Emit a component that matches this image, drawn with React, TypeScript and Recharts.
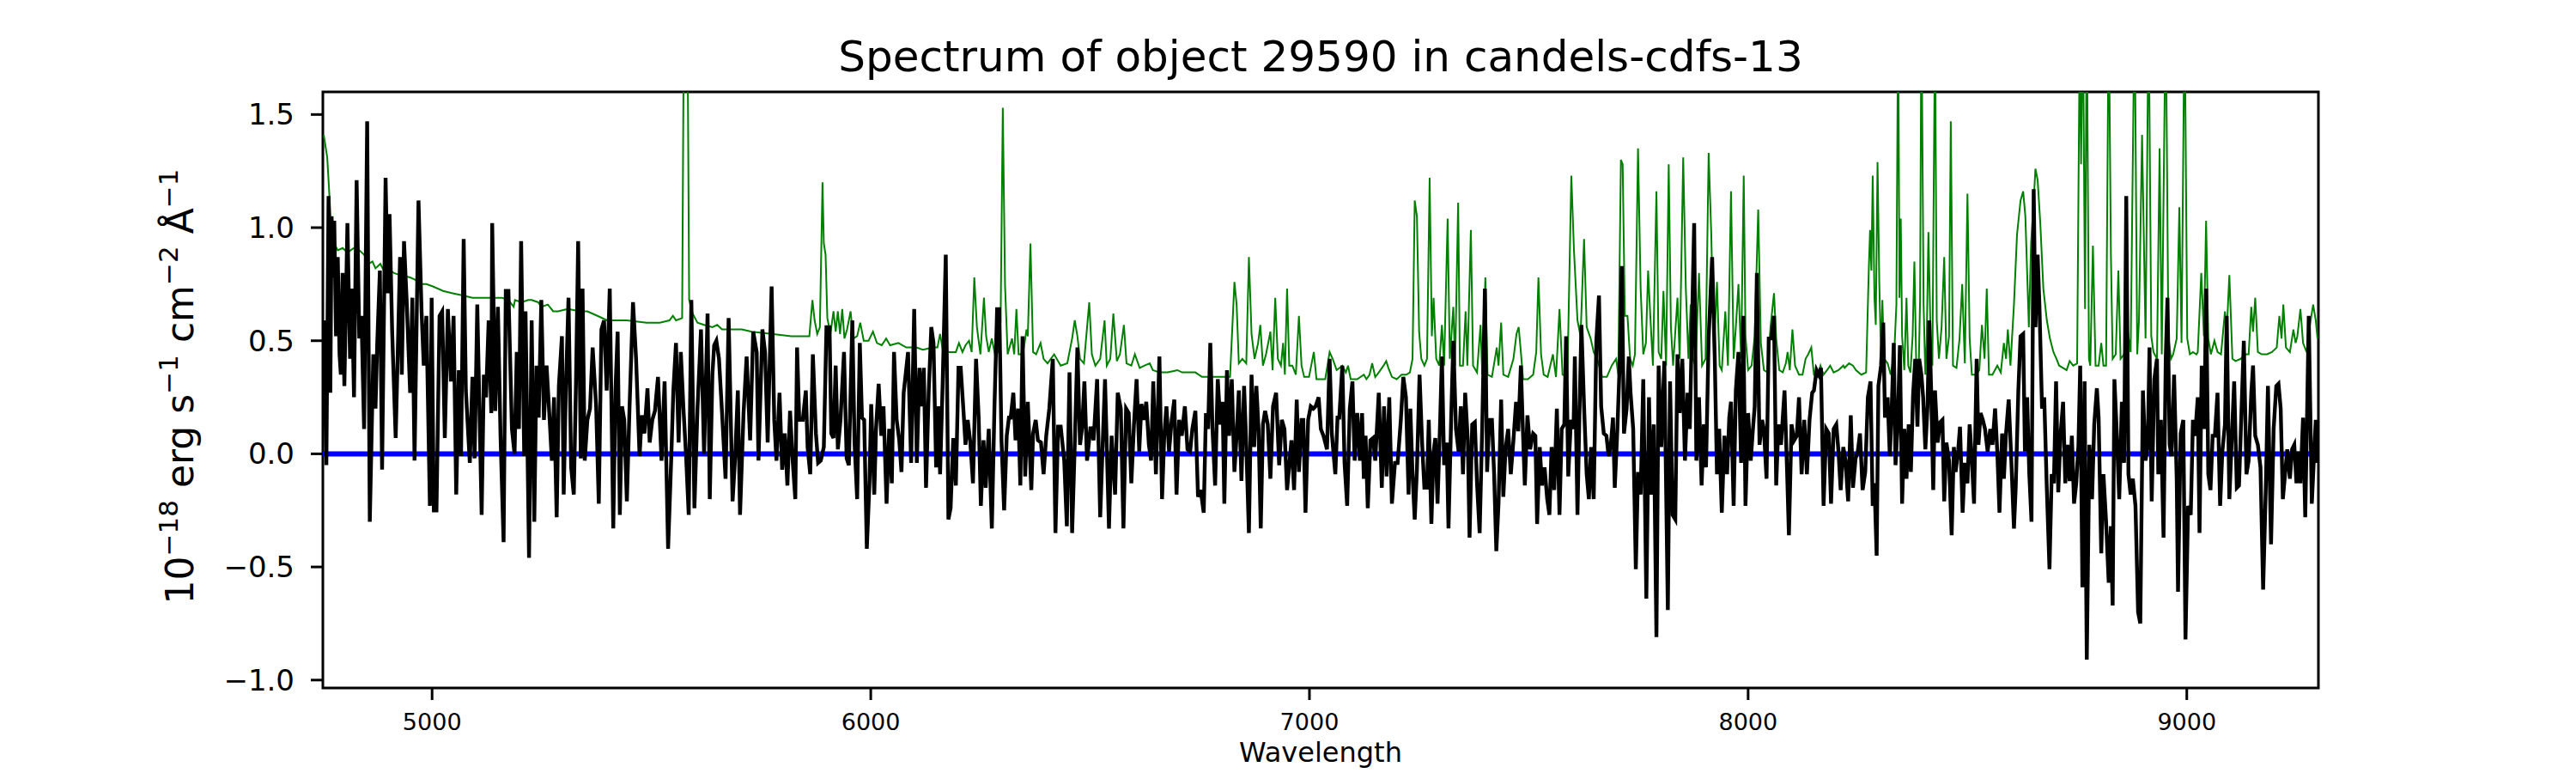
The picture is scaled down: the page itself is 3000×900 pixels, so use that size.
import React from "react";
import { LineChart, Line, XAxis, YAxis, ReferenceArea } from "recharts";

const chartTitle = "Spectrum of object 29590 in candels-cdfs-13";
const xAxisTitle = "Wavelength";
const xTicks = [5000, 6000, 7000, 8000, 9000];
const yTicks = [-1.0, -0.5, 0.0, 0.5, 1.0, 1.5];
const xDomain: [number, number] = [4751, 9300];
const yDomain: [number, number] = [-1.035, 1.6];

// zero level drawn across the full wavelength range
const zeroLevel: [number, number][] = [[4751, 0], [9300, 0]];

// model / sky spectrum (green), [wavelength, flux]
const skyBlue: [number, number][] = [
    [4753, 1.41], [4761, 1.31], [4766, 1.14], [4771, 0.97], [4777, 0.93], [4785, 0.90], [4796, 0.91], [4807, 0.89],
    [4822, 0.91], [4834, 0.90], [4845, 0.88], [4856, 0.84], [4864, 0.85], [4871, 0.82], [4882, 0.84], [4890, 0.81],
    [4901, 0.82], [4912, 0.80], [4927, 0.79], [4950, 0.78], [4961, 0.77], [4972, 0.75], [4987, 0.75], [5002, 0.74],
    [5025, 0.72], [5047, 0.71], [5070, 0.70], [5092, 0.69], [5115, 0.69], [5137, 0.69], [5159, 0.69], [5174, 0.68],
    [5186, 0.65], [5189, 0.68], [5204, 0.67], [5219, 0.68], [5227, 0.68], [5242, 0.67], [5249, 0.65], [5264, 0.66],
    [5276, 0.63], [5287, 0.63], [5309, 0.64], [5339, 0.63], [5354, 0.63], [5377, 0.61], [5399, 0.59], [5444, 0.59],
    [5489, 0.58], [5519, 0.58], [5541, 0.59], [5549, 0.61], [5556, 0.59], [5570, 0.60], [5575, 2.3], [5578, 1.8],
    [5581, 2.3], [5586, 0.68], [5594, 0.62], [5605, 0.58], [5620, 0.57], [5639, 0.56], [5650, 0.57], [5661, 0.55],
    [5706, 0.55], [5729, 0.54], [5774, 0.53], [5819, 0.52], [5860, 0.52], [5867, 0.68], [5872, 0.59], [5878, 0.53],
    [5884, 0.56], [5890, 1.20], [5893, 0.93], [5897, 0.88], [5901, 0.60], [5908, 0.53],
];

const skyGreen: [number, number][] = [
    [5915, 0.63], [5920, 0.54], [5925, 0.63], [5930, 0.53], [5935, 0.64], [5940, 0.51], [5946, 0.55], [5954, 0.63],
    [5960, 0.51], [5969, 0.52], [5976, 0.58], [5984, 0.50], [5995, 0.50], [6005, 0.54], [6014, 0.49], [6025, 0.48],
    [6035, 0.51], [6044, 0.48], [6063, 0.49], [6081, 0.47], [6104, 0.47], [6119, 0.46], [6141, 0.47], [6152, 0.47],
    [6158, 0.53], [6164, 0.46], [6179, 0.45], [6194, 0.45], [6201, 0.49], [6209, 0.45], [6216, 0.48], [6224, 0.50],
    [6230, 0.45], [6236, 0.78], [6242, 0.56], [6250, 0.44], [6258, 0.69], [6263, 0.52], [6269, 0.45], [6276, 0.51],
    [6283, 0.44], [6291, 0.45], [6296, 0.59], [6301, 1.53], [6306, 0.75], [6312, 0.44], [6322, 0.51], [6327, 0.44],
    [6332, 0.64], [6337, 0.44], [6347, 0.44], [6355, 0.55], [6358, 0.52], [6364, 0.93], [6370, 0.45], [6377, 0.44],
    [6387, 0.49], [6394, 0.42], [6403, 0.40], [6418, 0.44], [6433, 0.39], [6448, 0.40], [6459, 0.51], [6465, 0.59],
    [6471, 0.52], [6477, 0.42], [6486, 0.40], [6498, 0.67], [6504, 0.44], [6512, 0.39], [6523, 0.42], [6533, 0.59],
    [6538, 0.39], [6546, 0.42], [6553, 0.62], [6561, 0.41], [6568, 0.44], [6577, 0.57], [6583, 0.40], [6594, 0.39],
    [6602, 0.44], [6613, 0.38], [6624, 0.39], [6636, 0.40], [6643, 0.37], [6658, 0.36], [6677, 0.36], [6699, 0.37],
    [6710, 0.36], [6725, 0.36], [6740, 0.36], [6755, 0.34], [6778, 0.34], [6800, 0.34], [6819, 0.34], [6829, 0.76],
    [6834, 0.66], [6839, 0.40], [6847, 0.42], [6856, 0.40], [6862, 0.87], [6868, 0.53], [6875, 0.42], [6883, 0.49],
    [6888, 0.57], [6894, 0.39], [6901, 0.44], [6911, 0.54], [6916, 0.37], [6922, 0.69], [6928, 0.42], [6935, 0.39],
    [6940, 0.49], [6944, 0.35], [6949, 0.73], [6954, 0.39], [6961, 0.39], [6969, 0.35], [6976, 0.61], [6982, 0.39],
    [6988, 0.34], [6999, 0.34], [7010, 0.45], [7016, 0.33], [7025, 0.33], [7036, 0.33], [7046, 0.45], [7053, 0.42],
    [7062, 0.37],
];

const skyRed: [number, number][] = [
    [7075, 0.39], [7083, 0.36], [7088, 0.39], [7094, 0.33], [7109, 0.33], [7124, 0.35], [7130, 0.33], [7137, 0.35],
    [7143, 0.40], [7150, 0.34], [7158, 0.36], [7169, 0.39], [7175, 0.41], [7180, 0.38], [7188, 0.34], [7199, 0.33],
    [7210, 0.35], [7221, 0.35], [7229, 0.36], [7235, 0.42], [7240, 1.12], [7245, 1.05], [7250, 0.54], [7255, 0.42],
    [7262, 0.39], [7268, 0.42], [7274, 1.22], [7279, 0.52], [7283, 0.69], [7289, 0.42], [7296, 0.39], [7302, 0.57],
    [7307, 0.39], [7315, 1.04], [7320, 0.42], [7328, 0.65], [7332, 0.39], [7339, 1.11], [7343, 0.39], [7350, 0.39],
    [7356, 0.63], [7360, 0.39], [7368, 0.99], [7373, 0.39], [7382, 0.36], [7390, 0.57], [7394, 0.35], [7401, 0.78],
    [7406, 0.35], [7416, 0.34], [7427, 0.47], [7431, 0.39], [7437, 0.58], [7442, 0.35], [7453, 0.34], [7465, 0.42],
    [7472, 0.53], [7477, 0.56], [7482, 0.45], [7487, 0.33], [7498, 0.33], [7510, 0.35], [7517, 0.45], [7522, 0.78],
    [7528, 0.44], [7534, 0.35], [7543, 0.34], [7555, 0.44], [7562, 0.34], [7570, 0.64], [7577, 0.35], [7588, 0.34],
    [7597, 1.23], [7603, 0.90], [7611, 0.59], [7618, 0.52], [7626, 0.95], [7632, 0.56], [7641, 0.51], [7648, 0.45],
    [7656, 0.42], [7667, 0.34], [7678, 0.34], [7689, 0.39], [7699, 0.42], [7704, 0.35], [7710, 1.30], [7714, 1.28],
    [7719, 0.61], [7725, 0.61], [7731, 0.42], [7737, 0.39], [7742, 0.44], [7749, 1.35], [7755, 0.73], [7761, 0.44],
    [7767, 0.49], [7772, 0.81], [7777, 0.61], [7783, 0.39], [7791, 1.16], [7796, 0.45], [7802, 0.42], [7807, 0.72],
    [7813, 0.39], [7819, 1.28], [7824, 0.56], [7829, 0.39], [7839, 0.69], [7844, 0.42], [7852, 1.31], [7858, 0.73],
    [7864, 0.42], [7869, 0.66], [7874, 0.42], [7880, 0.39], [7888, 0.80], [7895, 0.39], [7903, 0.42], [7910, 1.33],
    [7916, 0.97], [7922, 0.45], [7929, 0.76], [7935, 0.39], [7940, 0.37], [7948, 0.63], [7954, 0.39], [7961, 1.16],
    [7967, 0.42], [7972, 0.56], [7978, 0.75], [7984, 0.42], [7990, 1.23], [7994, 0.52], [8000, 0.37], [8008, 0.39],
    [8015, 0.52], [8023, 1.08], [8029, 0.49], [8036, 0.37], [8044, 0.36], [8051, 0.56], [8059, 0.71], [8064, 0.51],
    [8071, 0.37], [8079, 0.36], [8086, 0.40], [8090, 0.45], [8095, 0.37], [8101, 0.55], [8107, 0.39], [8116, 0.35],
    [8124, 0.35], [8131, 0.42], [8137, 0.44], [8144, 0.47], [8150, 0.35], [8158, 0.34], [8165, 0.39], [8172, 0.35],
    [8180, 0.37], [8187, 0.39], [8195, 0.36], [8206, 0.37], [8217, 0.39],
];

const skyNir: [number, number][] = [
    [8220, 0.38], [8230, 0.40], [8239, 0.39], [8246, 0.37], [8258, 0.35], [8269, 0.36], [8275, 0.81], [8278, 0.99],
    [8281, 0.81], [8284, 1.23], [8288, 0.69], [8291, 0.57], [8295, 1.29], [8299, 0.76], [8303, 0.42], [8306, 0.68],
    [8310, 0.42], [8318, 0.40], [8325, 0.35], [8333, 0.44], [8338, 0.66], [8342, 2.0], [8345, 0.69], [8348, 1.04],
    [8351, 0.52], [8356, 0.37], [8361, 0.69], [8365, 0.39], [8370, 0.36], [8375, 0.52], [8379, 0.85], [8383, 0.42],
    [8389, 0.39], [8392, 0.68], [8395, 2.0], [8400, 0.66], [8404, 0.35], [8407, 0.49], [8411, 0.98], [8416, 0.52],
    [8420, 0.39], [8426, 1.9], [8430, 0.59], [8435, 0.42], [8441, 0.56], [8447, 0.87], [8452, 0.42], [8458, 0.52],
    [8462, 1.47], [8467, 0.39], [8475, 0.38], [8482, 0.51], [8488, 0.75], [8494, 0.40], [8500, 1.15], [8505, 0.51],
    [8510, 0.35], [8520, 0.35], [8527, 0.37], [8533, 0.57], [8539, 0.42], [8544, 0.73], [8549, 0.35], [8557, 0.35],
    [8568, 0.39], [8576, 0.36], [8583, 0.49], [8588, 0.42], [8592, 0.55], [8598, 0.39], [8606, 0.66], [8613, 0.97],
    [8621, 1.12], [8627, 1.16], [8632, 1.05], [8640, 0.56], [8645, 0.93], [8651, 1.12], [8655, 1.26], [8660, 1.21],
    [8666, 1.02], [8673, 0.73], [8681, 0.59], [8688, 0.51], [8696, 0.45], [8703, 0.42], [8709, 0.39], [8718, 0.38],
    [8726, 0.37], [8733, 0.41], [8741, 0.39], [8750, 0.40], [8756, 1.9], [8759, 1.28], [8763, 2.0], [8768, 0.64],
    [8772, 2.0], [8777, 0.42], [8780, 0.39], [8786, 0.92], [8792, 0.39], [8799, 0.39], [8805, 0.49], [8810, 0.39],
    [8816, 0.39], [8822, 2.0], [8827, 0.88], [8831, 0.42], [8838, 0.44], [8844, 0.81], [8849, 0.42], [8857, 0.44],
    [8864, 0.56], [8872, 0.45], [8881, 2.0], [8887, 0.44], [8891, 0.59], [8898, 1.41], [8906, 0.51], [8913, 2.0],
    [8919, 0.52], [8924, 0.45], [8932, 0.42], [8938, 1.35], [8943, 0.44], [8952, 2.0], [8958, 0.52], [8964, 0.42],
    [8969, 0.44], [8977, 0.51], [8983, 1.09], [8988, 0.49], [8995, 2.0], [9001, 0.51], [9007, 0.44], [9014, 0.45],
    [9022, 0.44], [9025, 0.45], [9033, 0.80], [9039, 0.52], [9044, 1.03], [9049, 0.51], [9055, 0.44], [9063, 0.50],
    [9070, 0.45], [9078, 0.44], [9087, 0.63], [9091, 0.54], [9097, 0.79], [9104, 0.42], [9111, 0.41], [9123, 0.42],
    [9134, 0.44], [9141, 0.44], [9147, 0.65], [9151, 0.54], [9156, 0.69], [9162, 0.45], [9171, 0.44], [9183, 0.44],
    [9194, 0.45], [9205, 0.47], [9211, 0.61], [9216, 0.51], [9220, 0.66], [9226, 0.47], [9235, 0.45], [9243, 0.55],
    [9248, 0.49], [9252, 0.52], [9259, 0.64], [9265, 0.49], [9273, 0.45], [9280, 0.56], [9288, 0.66], [9294, 0.59],
    [9298, 0.51],
];

// observed spectrum (black), [wavelength, flux]
const fluxBlue: [number, number][] = [
    [4753, 0.59], [4759, -0.05], [4764, 1.14], [4768, 0.27], [4771, 1.05], [4775, 0.78], [4777, 1.03], [4781, 0.52],
    [4785, 0.87], [4789, 0.44], [4792, 0.35], [4796, 0.80], [4800, 0.30], [4807, 1.02], [4813, 0.42], [4817, 0.73],
    [4822, 0.25], [4828, 1.21], [4834, 0.51], [4839, 0.61], [4845, 0.11], [4852, 1.47], [4858, -0.30], [4866, 0.44],
    [4871, 0.20], [4875, 0.49], [4881, 0.81], [4886, -0.07], [4894, 1.22], [4899, 0.71], [4903, 1.06], [4909, 0.54],
    [4917, 0.07], [4927, 0.87], [4931, 0.35], [4936, 0.94], [4942, 0.68], [4950, 0.27], [4955, 0.69], [4960, -0.03],
    [4969, 1.12], [4976, 0.63], [4981, 0.39], [4987, 0.61], [4995, -0.23], [4999, 0.69], [5004, -0.25], [5010, -0.25],
    [5017, 0.61], [5023, 0.63], [5029, 0.07], [5036, 0.64], [5043, 0.32], [5049, 0.61], [5055, -0.18], [5061, 0.37],
    [5066, -0.01], [5072, 0.95], [5077, 0.28], [5086, -0.04], [5092, 0.34], [5097, -0.02], [5103, 0.66], [5113, -0.27],
    [5118, 0.35], [5123, 0.25], [5129, 0.59], [5135, 0.18], [5137, 1.02], [5144, 0.19], [5150, 0.65], [5156, 0.08],
    [5163, -0.39], [5168, 0.72], [5174, 0.72], [5182, 0.11], [5188, 0.00], [5193, 0.45], [5198, 0.11], [5203, 0.94],
    [5210, -0.01], [5213, 0.63], [5221, -0.46], [5227, 0.59], [5233, -0.30], [5238, 0.39], [5243, 0.16], [5249, 0.68],
    [5255, 0.15], [5261, 0.39], [5268, 0.15], [5273, -0.03], [5278, 0.25], [5284, -0.28], [5289, 0.30], [5296, 0.52],
    [5300, -0.18], [5305, 0.29], [5311, 0.69], [5317, -0.06], [5323, -0.18], [5328, 0.31], [5333, 0.94], [5339, -0.02],
    [5343, 0.73], [5348, -0.03], [5354, 0.15], [5360, 0.20], [5366, 0.47], [5374, 0.21], [5380, -0.22], [5386, 0.55],
    [5392, 0.59], [5398, 0.28], [5405, 0.73], [5413, -0.33], [5418, 0.28], [5423, 0.54], [5428, -0.27], [5433, 0.21],
    [5438, 0.15], [5444, -0.21], [5450, 0.20], [5458, 0.67], [5465, 0.42], [5473, -0.01], [5478, 0.17], [5484, 0.09],
    [5491, 0.29], [5496, 0.05], [5502, 0.15], [5508, 0.19], [5515, 0.34], [5523, -0.03], [5530, 0.32], [5538, -0.42],
    [5545, -0.03], [5550, 0.28], [5556, 0.49], [5562, 0.05], [5567, 0.45], [5573, 0.20], [5579, -0.01], [5585, -0.27],
    [5591, 0.68], [5598, -0.24], [5605, 0.20], [5613, 0.55], [5620, 0.00], [5628, 0.62], [5633, -0.20], [5639, 0.35],
    [5643, 0.48], [5648, 0.50], [5654, 0.42], [5661, 0.18], [5669, -0.11], [5676, 0.60], [5685, -0.21], [5691, -0.01],
    [5697, 0.28], [5702, -0.27], [5710, 0.18], [5717, 0.43], [5725, 0.06], [5732, 0.54], [5740, 0.45], [5744, -0.03],
    [5753, 0.55], [5759, 0.45], [5765, 0.05], [5774, 0.74], [5780, 0.15], [5785, -0.03], [5792, 0.27], [5798, -0.07],
    [5804, 0.09], [5810, -0.14], [5816, 0.19], [5822, -0.03], [5828, -0.20], [5832, 0.47], [5837, 0.15], [5845, 0.15],
    [5852, 0.28], [5856, 0.03], [5862, -0.09], [5868, 0.44], [5875, 0.09], [5880, -0.04], [5886, -0.03], [5893, 0.03],
    [5899, 0.56], [5906, 0.56], [5910, 0.09],
];

const fluxGreen: [number, number][] = [
    [5915, 0.07], [5920, 0.39], [5925, 0.02], [5931, 0.15], [5939, 0.45], [5945, -0.02], [5950, -0.05], [5958, 0.59],
    [5963, 0.05], [5969, -0.20], [5975, 0.49], [5980, 0.16], [5985, 0.15], [5991, -0.42], [5997, -0.13], [6001, 0.22],
    [6008, -0.18], [6012, 0.11], [6018, 0.31], [6024, 0.08], [6029, 0.21], [6036, -0.22], [6042, 0.11], [6048, -0.13],
    [6053, 0.45], [6059, 0.15], [6065, 0.06], [6070, -0.08], [6075, 0.27], [6085, 0.45], [6092, -0.04], [6099, 0.64],
    [6105, -0.04], [6111, 0.38], [6117, 0.21], [6121, 0.38], [6126, -0.15], [6132, 0.27], [6138, 0.56], [6143, 0.49],
    [6149, -0.06], [6154, 0.21], [6158, -0.09], [6164, 0.32], [6171, 0.88], [6177, -0.29], [6182, -0.24], [6188, 0.07],
    [6194, -0.14], [6200, 0.38], [6205, 0.38], [6211, 0.20], [6216, 0.04], [6221, 0.15], [6227, 0.05], [6233, -0.13],
    [6240, 0.42], [6246, 0.16], [6251, -0.23], [6257, 0.06], [6262, -0.15], [6269, 0.11], [6276, -0.33], [6282, 0.21],
    [6288, 0.64], [6293, 0.64], [6298, 0.06], [6304, -0.25], [6310, 0.08], [6315, 0.16], [6319, 0.16], [6325, 0.27],
    [6330, 0.06], [6336, 0.20], [6341, -0.14], [6346, 0.52], [6352, -0.10], [6358, 0.23], [6366, -0.16], [6370, 0.09],
    [6376, 0.15], [6381, 0.06], [6388, 0.05], [6394, -0.09], [6400, 0.08], [6407, 0.20], [6415, 0.42], [6421, -0.35],
    [6427, 0.12], [6433, 0.12], [6441, -0.03], [6447, -0.32], [6453, 0.36], [6459, -0.35], [6465, 0.04], [6471, 0.47],
    [6477, 0.04], [6482, 0.12], [6487, 0.32], [6493, -0.03], [6501, 0.12], [6508, 0.06], [6516, 0.33], [6523, -0.28],
    [6529, 0.06], [6534, 0.33], [6543, -0.33], [6549, 0.08], [6557, -0.18], [6563, 0.27], [6570, 0.20], [6576, -0.33],
    [6582, 0.20], [6588, 0.18], [6594, -0.13], [6600, 0.13], [6606, 0.33], [6612, 0.01], [6617, 0.22], [6623, 0.15],
    [6628, 0.23], [6634, 0.04], [6639, -0.03], [6644, 0.32], [6650, -0.09], [6658, 0.43], [6664, -0.20], [6669, 0.08],
    [6674, 0.21], [6680, 0.01], [6686, 0.15], [6692, 0.24], [6697, -0.18], [6703, 0.15], [6709, 0.08], [6716, 0.21],
    [6722, 0.02], [6728, 0.01], [6733, 0.11], [6740, 0.19], [6746, -0.19], [6752, -0.16], [6759, -0.26], [6764, 0.18],
    [6769, 0.11], [6774, 0.49], [6779, 0.11], [6785, -0.14], [6791, 0.33], [6797, 0.13], [6802, 0.23], [6806, -0.22],
    [6812, 0.37], [6817, 0.08], [6823, 0.33], [6829, -0.08], [6834, 0.08], [6839, 0.28], [6845, -0.12], [6851, 0.30],
    [6856, 0.04], [6862, -0.35], [6868, 0.35], [6874, 0.03], [6879, 0.30], [6884, 0.11], [6889, -0.33], [6894, 0.13],
    [6899, 0.19], [6905, 0.13], [6911, -0.11], [6917, 0.21], [6924, 0.27], [6931, -0.05], [6937, 0.15], [6943, 0.11],
    [6949, -0.16], [6954, -0.05], [6959, 0.06], [6965, -0.16], [6971, 0.24], [6976, -0.08], [6982, 0.15], [6986, 0.15],
    [6991, -0.26], [6997, 0.15], [7003, 0.21], [7009, 0.20], [7014, 0.21], [7021, 0.25], [7026, 0.11], [7032, 0.08],
    [7040, 0.02], [7046, 0.42], [7051, 0.09], [7059, -0.09], [7064, 0.16],
];

const fluxRed: [number, number][] = [
    [7068, 0.16], [7075, 0.39], [7080, -0.04], [7086, -0.23], [7092, 0.20], [7098, 0.32], [7103, -0.03], [7109, 0.18],
    [7115, -0.03], [7120, 0.18], [7124, -0.11], [7128, 0.08], [7133, -0.24], [7139, 0.06], [7145, 0.07], [7150, -0.03],
    [7158, 0.27], [7165, -0.15], [7170, 0.21], [7176, -0.10], [7182, 0.25], [7188, -0.22], [7195, -0.04], [7201, -0.04],
    [7208, 0.14], [7214, 0.34], [7220, 0.25], [7226, -0.18], [7230, 0.20], [7235, -0.09], [7240, -0.29], [7245, -0.07],
    [7251, 0.35], [7257, 0.04], [7262, -0.15], [7268, -0.15], [7272, 0.15], [7278, -0.31], [7283, 0.01], [7287, 0.07],
    [7292, -0.22], [7298, 0.15], [7302, 0.43], [7307, -0.05], [7313, 0.05], [7317, -0.33], [7323, 0.15], [7328, 0.50],
    [7334, 0.11], [7340, 0.01], [7345, 0.21], [7350, -0.09], [7355, 0.27], [7361, 0.06], [7365, -0.37], [7371, 0.13],
    [7377, 0.14], [7382, -0.13], [7388, -0.35], [7394, 0.13], [7400, 0.73], [7405, -0.08], [7410, 0.15], [7416, 0.15],
    [7421, -0.09], [7426, -0.43], [7431, -0.22], [7437, 0.24], [7442, -0.19], [7447, 0.02], [7453, 0.11], [7459, -0.09],
    [7465, 0.06], [7471, 0.23], [7476, 0.10], [7482, 0.39], [7487, 0.08], [7491, -0.14], [7497, 0.17], [7503, 0.02],
    [7510, 0.09], [7515, 0.08], [7519, -0.31], [7525, 0.03], [7530, -0.14], [7536, -0.06], [7542, -0.20], [7547, -0.27],
    [7552, 0.03], [7558, -0.16], [7564, 0.20], [7570, -0.27], [7575, 0.11], [7581, 0.13], [7585, 0.52], [7590, -0.10],
    [7596, 0.15], [7602, 0.11], [7605, 0.43], [7611, -0.27], [7615, 0.13], [7620, 0.57], [7626, 0.21], [7632, -0.09],
    [7637, -0.20], [7642, 0.03], [7648, -0.20], [7654, 0.50], [7660, 0.70], [7665, 0.21], [7671, 0.09], [7677, 0.08],
    [7682, -0.01], [7687, 0.04], [7692, 0.16], [7696, -0.15], [7702, 0.11], [7708, 0.44], [7712, 0.83], [7717, 0.09],
    [7723, 0.20], [7728, 0.43], [7732, 0.27], [7738, 0.11], [7744, -0.51], [7749, -0.08], [7755, -0.18], [7761, 0.33],
    [7768, -0.64], [7774, 0.25], [7779, -0.18], [7785, 0.13], [7791, -0.81], [7796, 0.39], [7802, 0.03], [7809, 0.41],
    [7817, -0.69], [7822, 0.32], [7828, -0.27], [7834, -0.29], [7839, 0.44], [7844, 0.18], [7850, 0.42], [7856, -0.03],
    [7862, 0.27], [7867, 0.11], [7873, 0.66], [7877, 1.02], [7882, -0.03], [7888, 0.25], [7894, -0.14], [7899, 0.13],
    [7904, -0.06], [7910, 0.51], [7918, 0.87], [7924, 0.42], [7929, -0.09], [7934, 0.11], [7940, -0.26], [7946, 0.08],
    [7952, -0.09], [7957, 0.16], [7961, 0.23], [7967, -0.23], [7972, 0.28], [7978, 0.45], [7984, -0.04], [7989, 0.61],
    [7994, -0.23], [8000, 0.18], [8006, -0.03], [8011, 0.11], [8015, 0.21], [8020, 0.80], [8026, 0.04], [8032, 0.15],
    [8036, 0.11], [8042, -0.11], [8047, 0.51], [8053, 0.51], [8059, 0.61], [8064, -0.14], [8069, 0.13], [8075, 0.04],
    [8083, 0.28], [8089, -0.09], [8093, -0.36], [8099, 0.13], [8105, 0.06], [8111, 0.08], [8116, 0.25], [8122, -0.09],
    [8128, 0.15], [8134, -0.09], [8140, 0.15], [8146, 0.27], [8150, 0.28], [8156, 0.37], [8161, 0.35], [8166, 0.38],
    [8172, -0.23], [8178, 0.11], [8184, 0.09], [8189, -0.22], [8195, 0.11], [8201, 0.13], [8206, 0.01], [8211, -0.16],
    [8217, 0.03],
];

const fluxNir: [number, number][] = [
    [8222, -0.03], [8228, -0.21], [8234, 0.17], [8239, -0.15], [8245, -0.02], [8250, 0.01], [8255, 0.09], [8261, -0.16],
    [8267, -0.08], [8273, 0.25], [8279, 0.32], [8284, -0.23], [8288, -0.13], [8293, -0.45], [8297, 0.30], [8303, 0.39],
    [8308, 0.58], [8312, 0.16], [8318, 0.25], [8323, -0.01], [8327, 0.18], [8332, 0.49], [8336, -0.05], [8341, 0.13],
    [8346, 0.48], [8351, -0.22], [8356, 0.11], [8361, -0.11], [8366, 0.13], [8371, -0.08], [8376, 0.26], [8381, 0.42],
    [8386, 0.12], [8390, 0.42], [8395, 0.35], [8399, 0.25], [8404, 0.02], [8409, 0.21], [8413, 0.59], [8417, 0.30],
    [8422, -0.16], [8426, 0.28], [8432, 0.05], [8438, 0.14], [8443, 0.15], [8447, -0.21], [8452, 0.05], [8458, -0.03],
    [8464, -0.36], [8469, 0.03], [8473, -0.08], [8479, 0.02], [8483, 0.12], [8489, -0.26], [8494, -0.04], [8500, -0.13],
    [8505, 0.13], [8509, 0.01], [8515, -0.22], [8521, 0.42], [8525, 0.04], [8530, 0.18], [8535, 0.15], [8540, 0.11],
    [8546, 0.01], [8552, 0.11], [8557, 0.04], [8563, 0.20], [8568, 0.01], [8573, -0.26], [8579, 0.09], [8583, -0.11],
    [8588, 0.09], [8594, 0.24], [8600, -0.03], [8606, -0.33], [8610, -0.15], [8616, 0.28], [8621, 0.52], [8627, 0.53],
    [8631, 0.01], [8636, 0.25], [8641, -0.09], [8646, -0.30], [8651, 1.17], [8655, 0.56], [8660, 0.88], [8664, 0.66],
    [8670, 0.20], [8675, 0.25], [8681, -0.16], [8687, -0.51], [8692, -0.09], [8697, -0.13], [8702, 0.32], [8707, -0.17],
    [8712, 0.08], [8718, 0.23], [8723, -0.13], [8728, 0.04], [8733, -0.12], [8738, 0.08], [8743, -0.22], [8748, -0.13],
    [8753, 0.04], [8757, 0.39], [8762, -0.59], [8767, 0.32], [8772, -0.91], [8778, 0.04], [8784, -0.20], [8789, 0.13],
    [8795, 0.29], [8799, 0.16], [8805, -0.44], [8810, -0.09], [8816, -0.30], [8822, -0.57], [8827, -0.32], [8831, -0.67],
    [8835, 0.33], [8840, 0.11], [8846, -0.20], [8852, 0.23], [8857, -0.04], [8862, 1.14], [8867, -0.09], [8872, -0.18],
    [8877, -0.11], [8883, -0.23], [8889, -0.70], [8894, -0.75], [8900, 0.28], [8906, -0.03], [8911, 0.04], [8915, 0.47],
    [8920, -0.21], [8926, 0.33], [8932, 0.42], [8935, -0.09], [8941, 0.15], [8947, -0.37], [8952, 0.42], [8956, 0.69],
    [8961, 0.04], [8965, -0.01], [8971, 0.35], [8977, -0.11], [8980, -0.61], [8986, 0.09], [8992, 0.15], [8997, -0.82],
    [9003, -0.23], [9009, -0.27], [9014, 0.15], [9019, 0.08], [9025, 0.25], [9029, -0.35], [9034, 0.39], [9040, 0.11],
    [9044, 0.73], [9049, -0.09], [9054, -0.16], [9059, 0.08], [9064, 0.08], [9070, 0.27], [9076, -0.23], [9081, 0.01],
    [9087, 0.13], [9091, 0.61], [9097, -0.20], [9102, 0.04], [9108, 0.32], [9114, -0.15], [9119, -0.14], [9124, 0.15],
    [9130, 0.50], [9136, -0.09], [9141, -0.03], [9147, 0.27], [9151, 0.39], [9156, 0.08], [9162, 0.04], [9168, -0.06],
    [9174, -0.60], [9180, -0.16], [9185, 0.30], [9192, -0.40], [9198, 0.11], [9204, 0.30], [9209, 0.31], [9214, 0.20],
    [9219, -0.20], [9224, -0.09], [9229, 0.02], [9235, -0.11], [9240, 0.02], [9245, 0.04], [9250, -0.13], [9255, 0.01],
    [9259, -0.13], [9265, 0.16], [9270, -0.28], [9274, 0.15], [9278, 0.61], [9285, -0.22], [9290, -0.01], [9294, 0.15],
    [9298, -0.04],
];

const toPoints = (segments: [number, number][][]) =>
    segments.flat().map(([w, f]) => ({ w, f }));

const skyData = toPoints([skyBlue, skyGreen, skyRed, skyNir]);
const fluxData = toPoints([fluxBlue, fluxGreen, fluxRed, fluxNir]);
const zeroData = toPoints([zeroLevel]);

const FONT = "DejaVu Sans";

const formatY = (v: number) =>
    v < 0 ? `\u2212${Math.abs(v).toFixed(1)}` : v.toFixed(1);

const YTitle = ({ viewBox }: any) => {
    const x = viewBox.x - 51;
    const y = viewBox.y + viewBox.height / 2 - 4;
    return (
        <text
            transform={`translate(${x},${y}) rotate(-90)`}
            textAnchor="middle"
            fontFamily={FONT}
            fontSize={44}
            fill="#000"
        >
            10
            <tspan fontSize={31} dy={-18}>{"\u221218"}</tspan>
            <tspan dy={18}> erg s</tspan>
            <tspan fontSize={31} dy={-18}>{"\u22121"}</tspan>
            <tspan dy={18}> cm</tspan>
            <tspan fontSize={31} dy={-18}>{"\u22122"}</tspan>
            <tspan dy={18}> {"\u00c5"}</tspan>
            <tspan fontSize={31} dy={-18}>{"\u22121"}</tspan>
        </text>
    );
};

const XTitle = ({ viewBox }: any) => (
    <text
        x={viewBox.x + viewBox.width / 2}
        y={viewBox.y + 86}
        textAnchor="middle"
        fontFamily={FONT}
        fontSize={32}
        fill="#000"
    >
        {xAxisTitle}
    </text>
);

export default function App() {
    return (
        <div style={{ position: "relative", width: 3000, height: 900, background: "#fff" }}>
            <style>{"body{margin:0;}"}</style>
            <svg
                width={3000}
                height={900}
                style={{ position: "absolute", left: 0, top: 0, pointerEvents: "none" }}
            >
                <text x={1538} y={83} textAnchor="middle" fontFamily={FONT} fontSize={50} fill="#000">
                    {chartTitle}
                </text>
            </svg>
            <LineChart
                width={3000}
                height={900}
                margin={{ top: 107, right: 300, bottom: 39, left: 276 }}
            >
                <XAxis
                    type="number"
                    dataKey="w"
                    domain={xDomain}
                    ticks={xTicks}
                    allowDataOverflow
                    height={60}
                    axisLine={false}
                    tickSize={14}
                    tickMargin={16}
                    tickLine={{ stroke: "#000", strokeWidth: 3 }}
                    tick={{ fill: "#000", fontSize: 27, fontFamily: FONT }}
                    label={<XTitle />}
                />
                <YAxis
                    type="number"
                    dataKey="f"
                    domain={yDomain}
                    ticks={yTicks}
                    allowDataOverflow
                    width={100}
                    axisLine={false}
                    tickSize={14}
                    tickMargin={19}
                    tickFormatter={formatY}
                    tickLine={{ stroke: "#000", strokeWidth: 3 }}
                    tick={{ fill: "#000", fontSize: 34, fontFamily: FONT }}
                    label={<YTitle />}
                />
                <Line
                    data={skyData}
                    dataKey="f"
                    type="linear"
                    stroke="#008000"
                    strokeWidth={2}
                    dot={false}
                    activeDot={false}
                    isAnimationActive={false}
                />
                <Line
                    data={zeroData}
                    dataKey="f"
                    type="linear"
                    stroke="#0000ff"
                    strokeWidth={6}
                    dot={false}
                    activeDot={false}
                    isAnimationActive={false}
                />
                <Line
                    data={fluxData}
                    dataKey="f"
                    type="linear"
                    stroke="#000"
                    strokeWidth={4.4}
                    strokeLinejoin="miter"
                    dot={false}
                    activeDot={false}
                    isAnimationActive={false}
                />
                <ReferenceArea
                    x1={xDomain[0]}
                    x2={xDomain[1]}
                    y1={yDomain[0]}
                    y2={yDomain[1]}
                    fill="none"
                    stroke="#000"
                    strokeWidth={3}
                    ifOverflow="visible"
                />
            </LineChart>
        </div>
    );
}
